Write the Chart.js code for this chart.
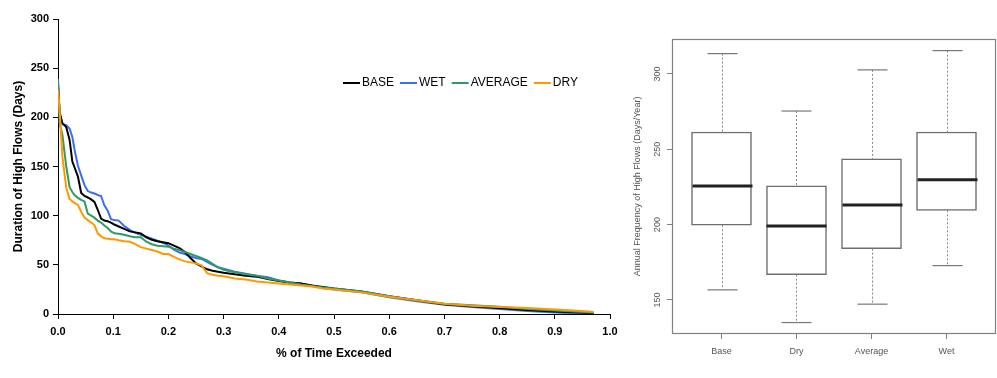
<!DOCTYPE html>
<html>
<head>
<meta charset="utf-8">
<title>High Flows</title>
<script src="https://cdn.jsdelivr.net/npm/chart.js@4/dist/chart.umd.min.js"></script>
<style>
  html, body { margin: 0; padding: 0; background: #fff; }
  .wrap { position: relative; width: 997px; height: 378px; overflow: hidden; }
  #durationChart { position: absolute; left: 0; top: 0; }
  #freqChart { position: absolute; left: 620px; top: 0; }
</style>
</head>
<body>
<div class="wrap">
  <canvas id="durationChart" width="625" height="378"></canvas>
  <canvas id="freqChart" width="377" height="378"></canvas>
</div>
<script>
// left chart: duration curves (x = share of time exceeded)
const exceed = [0, 0.003, 0.008, 0.015, 0.021, 0.026, 0.03, 0.036, 0.042, 0.048, 0.054, 0.06, 0.066, 0.072, 0.078, 0.084, 0.09, 0.096, 0.102, 0.11,
  0.12, 0.13, 0.14, 0.15, 0.16, 0.17, 0.18, 0.19, 0.2, 0.21, 0.22, 0.23, 0.24, 0.25, 0.26, 0.27, 0.28, 0.29, 0.3, 0.32,
  0.34, 0.36, 0.38, 0.4, 0.42, 0.44, 0.46, 0.48, 0.5, 0.55, 0.6, 0.65, 0.7, 0.75, 0.8, 0.85, 0.9, 0.95, 0.97];
const baseDays = [232, 205, 194, 190, 177, 155, 149, 140, 123, 120, 118.5, 116.5, 114, 106, 97, 95, 94.3, 93, 91, 89,
  86.5, 84, 83, 82, 78, 75.5, 74, 73, 72, 69.5, 67, 63, 57, 51.5, 48.5, 45.5, 44, 43, 42, 40.5,
  39, 38, 35.5, 33.5, 32, 31, 29, 27.5, 26, 23, 18, 14, 10, 8, 6, 4, 2.5, 1.5, 1];
const wetDays = [239, 204, 193, 192, 188.5, 180, 167, 151, 141, 131, 125, 123.5, 122.5, 121, 120, 110.5, 105, 96.5, 95.5, 95,
  89.5, 85.5, 82.5, 80.5, 78.5, 76.5, 74.5, 72.5, 69.5, 65.5, 62.5, 61, 58.5, 57, 56, 53, 50, 47.5, 46, 43,
  41, 39, 37.5, 34, 32, 31, 29, 26.5, 25, 22, 17, 13, 9.5, 7, 5, 3, 1.5, 0.5, 0];
const avgDays = [236, 194, 182, 150, 129, 124, 121, 118, 116, 114.5, 102, 100, 98, 95, 93, 90, 87.5, 84, 82, 81.5,
  80.5, 79, 78, 78, 73.5, 71, 69.5, 69, 68.5, 66.5, 65, 63, 61, 59, 57, 54.5, 51, 47.5, 45, 42.5,
  40.5, 39, 36, 34, 32, 30, 28.5, 27, 26, 23, 18, 14, 10.5, 9, 7.5, 5, 3.5, 2, 1.5];
const dryDays = [228, 207, 160, 128, 117, 114.5, 113, 111, 104, 98, 95.5, 93, 90.5, 82, 79, 77, 76.5, 76, 76, 75,
  74, 73.5, 71, 68, 66.5, 65, 63.5, 61, 61, 58, 55.5, 53.5, 52.5, 51.5, 49.5, 41.5, 40, 39, 38.3, 36,
  35, 33, 32, 31, 30, 29, 28, 26, 25, 22, 17.5, 14, 10.5, 8.5, 7, 6, 4.5, 3, 2];
const seriesNames = ["BASE", "WET", "AVERAGE", "DRY"];
const seriesColors = ["#000000", "#3b6ef5", "#2f9b62", "#ff9900"];

// right chart: annual frequency box plot
const boxLabels = ["Base", "Dry", "Average", "Wet"];
const boxMin = [156.7, 135, 147.2, 172.8];
const boxQ1 = [199.6, 166.8, 184.1, 209.5];
const boxMedian = [225.7, 199.1, 213.1, 229.7];
const boxQ3 = [261.5, 225.7, 243.6, 261.5];
const boxMax = [313.5, 275.4, 302.7, 315.5];
const freqTicks = [150, 200, 250, 300];

const FONT = "Arial, 'Liberation Sans', sans-serif";

// legend inside the plot area
const lineLegend = {
  id: "lineLegend",
  afterDraw(chart) {
    const ctx = chart.ctx;
    let x = chart.chartArea.left + 285;
    const y = chart.chartArea.top + 64;
    ctx.save();
    ctx.font = "12px " + FONT;
    ctx.textBaseline = "middle";
    seriesNames.forEach(function (name, i) {
      ctx.strokeStyle = seriesColors[i];
      ctx.lineWidth = 2;
      ctx.beginPath();
      ctx.moveTo(x, y);
      ctx.lineTo(x + 17, y);
      ctx.stroke();
      ctx.fillStyle = "#000";
      ctx.fillText(name, x + 19, y);
      x += 19 + ctx.measureText(name).width + 6;
    });
    ctx.restore();
  },
};

const seriesData = [baseDays, wetDays, avgDays, dryDays];
const drawOrder = [3, 4, 2, 1];

new Chart(document.getElementById("durationChart"), {
  type: "line",
  data: {
    datasets: seriesNames.map(function (name, i) {
      return {
        label: name,
        data: exceed.map(function (x, j) { return { x: x, y: seriesData[i][j] }; }),
        borderColor: seriesColors[i],
        borderWidth: 2,
        pointRadius: 0,
        tension: 0,
        fill: false,
        order: drawOrder[i],
      };
    }),
  },
  options: {
    responsive: false,
    animation: false,
    layout: { padding: { top: 19, right: 15, left: 0, bottom: 0 } },
    plugins: { legend: { display: false }, tooltip: { enabled: false } },
    scales: {
      x: {
        type: "linear",
        min: 0,
        max: 1,
        ticks: {
          stepSize: 0.1,
          callback: function (v) { return v.toFixed(1); },
          font: { family: FONT, size: 11, weight: "bold" },
          color: "#000",
          padding: 6,
          maxRotation: 0,
        },
        grid: { drawOnChartArea: false, tickLength: 5, color: "#000" },
        border: { display: true, color: "#000", width: 1 },
        title: {
          display: true,
          text: "% of Time Exceeded",
          font: { family: FONT, size: 12, weight: "bold" },
          color: "#000",
          padding: { top: 0, bottom: 17 },
        },
        afterFit: function (s) { s.height = 64; },
      },
      y: {
        min: 0,
        max: 300,
        ticks: {
          stepSize: 50,
          font: { family: FONT, size: 11, weight: "bold" },
          color: "#000",
          padding: 4,
        },
        grid: { drawOnChartArea: false, tickLength: 5, color: "#000" },
        border: { display: true, color: "#000", width: 1 },
        title: {
          display: true,
          text: "Duration of High Flows (Days)",
          font: { family: FONT, size: 12, weight: "bold" },
          color: "#000",
          padding: { top: 11, bottom: 0 },
        },
        afterFit: function (s) { s.width = 58; },
      },
    },
  },
  plugins: [lineLegend],
});

// whiskers, medians, frame and rotated tick labels (R style)
const boxExtras = {
  id: "boxExtras",
  afterDatasetsDraw(chart) {
    const ctx = chart.ctx;
    const a = chart.chartArea;
    const xs = chart.scales.x;
    const ys = chart.scales.y;
    function seg(x1, y1, x2, y2) {
      ctx.beginPath();
      ctx.moveTo(x1, y1);
      ctx.lineTo(x2, y2);
      ctx.stroke();
    }
    ctx.save();
    ctx.strokeStyle = "#808080";
    ctx.lineWidth = 1.2;
    ctx.strokeRect(a.left + 0.5, a.top + 0.5, a.right - a.left - 1, a.bottom - a.top - 1);

    boxLabels.forEach(function (l, i) {
      const cx = Math.round(xs.getPixelForValue(i + 1)) + 0.5;
      const yMax = ys.getPixelForValue(boxMax[i]);
      const yMin = ys.getPixelForValue(boxMin[i]);
      ctx.strokeStyle = "#888";
      ctx.lineWidth = 1;
      ctx.setLineDash([2, 2]);
      seg(cx, yMax, cx, ys.getPixelForValue(boxQ3[i]));
      seg(cx, ys.getPixelForValue(boxQ1[i]), cx, yMin);
      ctx.setLineDash([]);
      ctx.strokeStyle = "#777";
      ctx.lineWidth = 1.2;
      seg(cx - 15, yMax, cx + 15, yMax);
      seg(cx - 15, yMin, cx + 15, yMin);
      ctx.strokeStyle = "#222";
      ctx.lineWidth = 3;
      const yMed = ys.getPixelForValue(boxMedian[i]);
      seg(cx - 30, yMed, cx + 30, yMed);
    });

    ctx.font = "9px " + FONT;
    ctx.fillStyle = "#555";
    ctx.textAlign = "center";
    ctx.textBaseline = "middle";
    freqTicks.forEach(function (v) {
      ctx.save();
      ctx.translate(a.left - 14, ys.getPixelForValue(v));
      ctx.rotate(-Math.PI / 2);
      ctx.fillText(String(v), 0, 0);
      ctx.restore();
    });
    ctx.restore();
  },
};

new Chart(document.getElementById("freqChart"), {
  type: "bar",
  data: {
    datasets: [{
      data: boxLabels.map(function (l, i) { return { x: i + 1, y: [boxQ1[i], boxQ3[i]] }; }),
      backgroundColor: "#fff",
      borderColor: "#6e6e6e",
      borderWidth: 1.5,
      borderSkipped: false,
      barThickness: 60,
    }],
  },
  options: {
    responsive: false,
    animation: false,
    layout: { padding: { top: 39, right: 1, left: 0, bottom: 0 } },
    plugins: { legend: { display: false }, tooltip: { enabled: false } },
    scales: {
      x: {
        type: "linear",
        offset: false,
        min: 0.34,
        max: 4.66,
        afterBuildTicks: function (s) { s.ticks = boxLabels.map(function (l, i) { return { value: i + 1 }; }); },
        ticks: {
          callback: function (v) { return boxLabels[v - 1]; },
          font: { family: FONT, size: 9 },
          color: "#555",
          padding: 7,
          maxRotation: 0,
          autoSkip: false,
        },
        grid: { offset: false, drawOnChartArea: false, tickLength: 5, color: "#808080" },
        border: { display: false },
        afterFit: function (s) { s.height = 44; },
      },
      y: {
        min: 127.4,
        max: 323.2,
        afterBuildTicks: function (s) { s.ticks = freqTicks.map(function (v) { return { value: v }; }); },
        ticks: { display: false },
        grid: { drawOnChartArea: false, tickLength: 5, color: "#808080" },
        border: { display: false },
        title: {
          display: true,
          text: "Annual Frequency of High Flows (Days/Year)",
          font: { family: FONT, size: 9 },
          color: "#555",
          padding: { top: 12.6, bottom: 0 },
        },
        afterFit: function (s) { s.width = 52; },
      },
    },
  },
  plugins: [boxExtras],
});
</script>
</body>
</html>
